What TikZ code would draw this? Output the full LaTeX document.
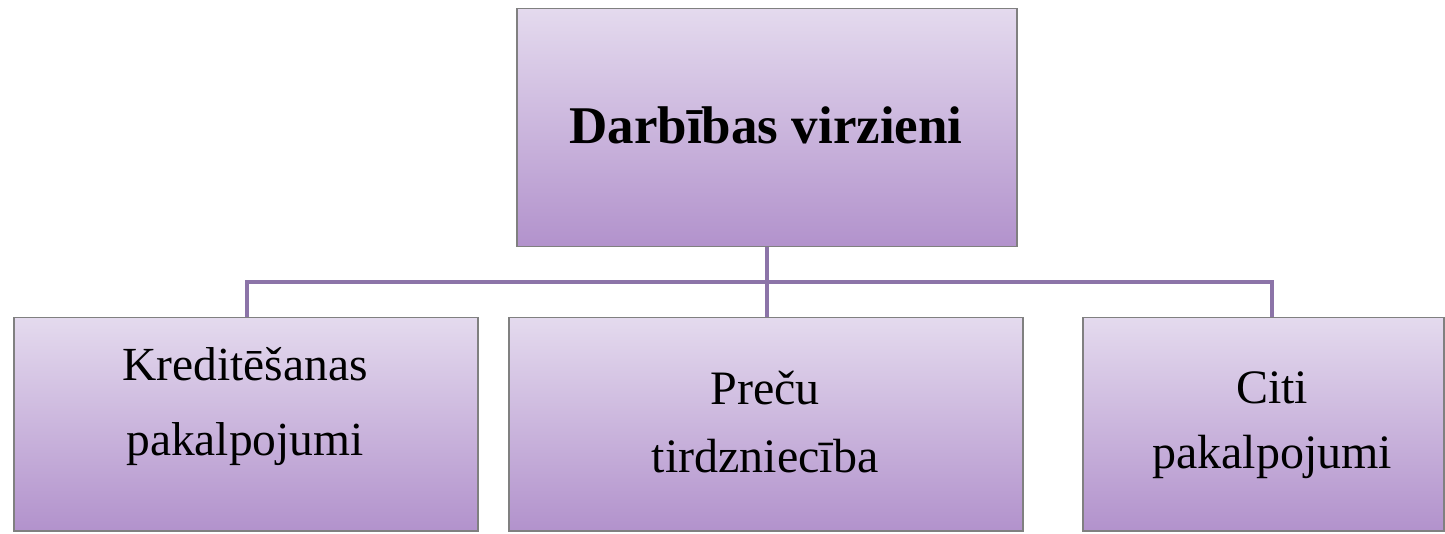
\documentclass[tikz,border=0pt]{standalone}
\usepackage{fontspec}
\setmainfont{Liberation Serif}
\usetikzlibrary{calc,backgrounds}
\definecolor{boxtop}{RGB}{228,218,238}
\definecolor{boxbot}{RGB}{178,146,204}
\definecolor{boxline}{RGB}{128,128,128}
\definecolor{connline}{RGB}{140,116,168}
\begin{document}
\begin{tikzpicture}[x=1pt,y=-1pt,
  box/.style={draw=boxline, line width=1.5pt, top color=boxtop, bottom color=boxbot,
    rectangle, inner sep=0pt, anchor=north west},
  conn/.style={draw=connline, line width=3.5pt},
  txt/.style={inner sep=0pt, anchor=base, align=center}]
\useasboundingbox (0,0) rectangle (1445,534);
% boxes
\node[box, minimum width=500pt, minimum height=238pt] (top) at (516,8) {};
\node[box, minimum width=464pt, minimum height=213pt] (left) at (13,317) {};
\node[box, minimum width=514pt, minimum height=213pt] (mid) at (508,317) {};
\node[box, minimum width=361pt, minimum height=213pt] (right) at (1082,317) {};
% texts
\node[txt, font=\fontsize{53}{53}\selectfont\bfseries] (ttext) at (766,144) {Darbības virzieni};
\node[txt, font=\fontsize{47.5}{47.5}\selectfont] (ltext) at (245,380)
  {\begin{tabular}[t]{@{}c@{}}Kreditēšanas\\[27.5pt]pakalpojumi\end{tabular}};
\node[txt, font=\fontsize{48}{48}\selectfont] (mtext) at (765,404)
  {\begin{tabular}[t]{@{}c@{}}Preču\\[20pt]tirdzniecība\end{tabular}};
\node[txt, font=\fontsize{48}{48}\selectfont] (rtext) at (1272,403)
  {\begin{tabular}[t]{@{}c@{}}Citi\\[17pt]pakalpojumi\end{tabular}};
% connectors
\coordinate (bus) at (0,282);
\coordinate (lj) at ($(left.north west)+(234,0)$);
\coordinate (rj) at ($(right.north west)+(190,0)$);
\begin{scope}[on background layer]
\draw[conn] (top.south) -- (top.south |- mid.north);
\draw[conn] (lj) -- (lj |- bus) -- (rj |- bus) -- (rj);
\end{scope}
\end{tikzpicture}
\end{document}
